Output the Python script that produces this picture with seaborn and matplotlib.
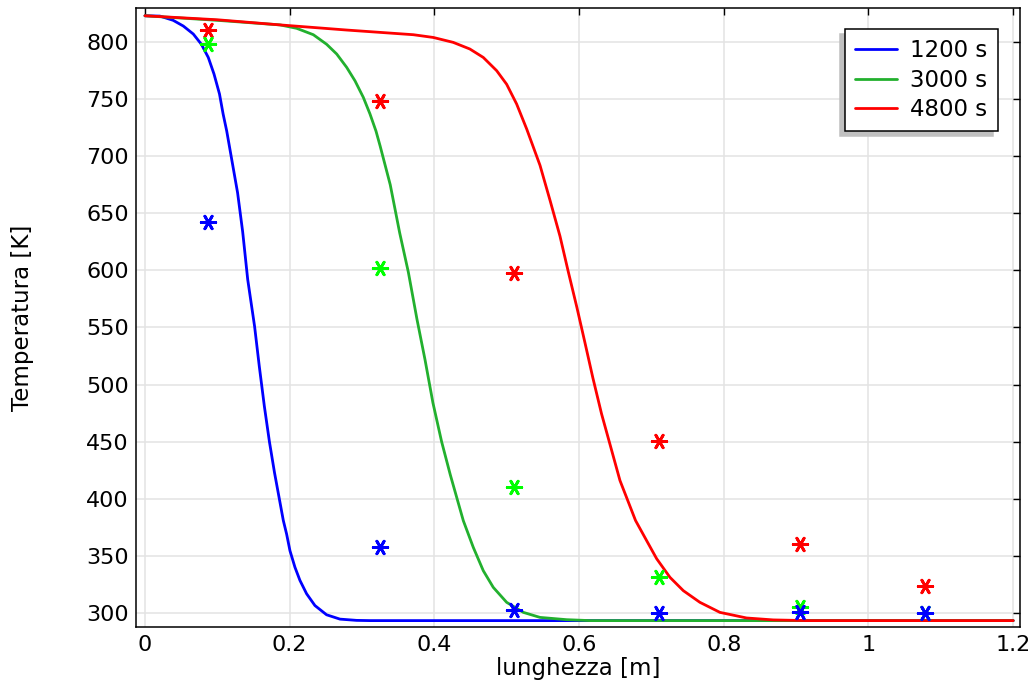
import numpy as np
import pandas as pd
import matplotlib
matplotlib.use("Agg")
import matplotlib.pyplot as plt
import seaborn as sns

# ---- data ----
series_names = ["1200 s", "3000 s", "4800 s"]

x_1200 = [0, 0.0207, 0.039, 0.053, 0.0668, 0.078, 0.0875, 0.0954, 0.103, 0.108, 0.113,
          0.128, 0.135, 0.142, 0.1515, 0.158, 0.165, 0.172, 0.179, 0.1912, 0.1958,
          0.2004, 0.2073, 0.2142, 0.2234, 0.2349, 0.251, 0.2695, 0.2925, 0.311, 0.4,
          0.6, 0.8, 1.0, 1.2]
t_1200 = [823, 822.7, 819, 814, 807, 798, 786.5, 772, 754.5, 737, 722,
          668, 634, 592, 551, 516, 481, 450, 423, 381, 369,
          354.5, 340, 328.5, 316.8, 306.5, 298.4, 294.6, 293.5, 293.3, 293.3,
          293.3, 293.3, 293.3, 293.3]

x_3000 = [0, 0.1, 0.1866, 0.2097, 0.2327, 0.2511, 0.265, 0.2788, 0.2903, 0.3018, 0.311,
          0.3193, 0.325, 0.339, 0.352, 0.364, 0.376, 0.387, 0.398, 0.410, 0.422, 0.44,
          0.4538, 0.4676, 0.4814, 0.4999, 0.523, 0.546, 0.583, 0.615, 0.8, 1.0, 1.2]
t_3000 = [823, 819, 815, 812, 806.4, 798, 789.5, 777.8, 766, 751.5, 737,
          722, 709, 675, 633, 598.5, 557, 522, 484, 450, 421, 380.8,
          357.4, 337, 322.4, 309.3, 300.5, 296.1, 294.1, 293.3, 293.3, 293.3, 293.3]

x_4800 = [0, 0.1, 0.1866, 0.2788, 0.371, 0.3985, 0.426, 0.449, 0.4676, 0.4861, 0.4999,
          0.5137, 0.5276, 0.546, 0.560, 0.5736, 0.585, 0.597, 0.608, 0.619, 0.631,
          0.643, 0.6565, 0.678, 0.6934, 0.7072, 0.7256, 0.7441, 0.767, 0.7947, 0.8315,
          0.8684, 0.9145, 1.0, 1.2]
t_4800 = [823, 819.5, 815, 810.5, 806.4, 804, 799.7, 793.9, 786.5, 774.9, 763,
          745.7, 723.8, 692, 661, 630, 599, 567.5, 537, 506, 474.5,
          447, 416, 381, 363.3, 347.5, 331.2, 319.5, 309.3, 300.5, 295.6,
          293.9, 293.3, 293.3, 293.3]

# measured points (stars)
x_meas = [0.087, 0.325, 0.51, 0.71, 0.905, 1.078]
m_1200 = [642, 358, 302.5, 300, 301, 300]
m_3000 = [798, 602, 410, 331.5, 305, 300]
m_4800 = [810.5, 748, 597.5, 450.5, 360.5, 323.5]

x_ticks = [0, 0.2, 0.4, 0.6, 0.8, 1.0, 1.2]
x_tick_labels = ["0", "0.2", "0.4", "0.6", "0.8", "1", "1.2"]
y_ticks = [300, 350, 400, 450, 500, 550, 600, 650, 700, 750, 800]

line_colors = ["#0000ff", "#22b02e", "#ff0000"]
marker_colors = ["#0000ff", "#00ff00", "#ff0000"]

# ---- tables ----
curves = pd.concat([
    pd.DataFrame({"x": x_1200, "T": t_1200, "serie": series_names[0]}),
    pd.DataFrame({"x": x_3000, "T": t_3000, "serie": series_names[1]}),
    pd.DataFrame({"x": x_4800, "T": t_4800, "serie": series_names[2]}),
], ignore_index=True)
points = pd.concat([
    pd.DataFrame({"x": x_meas, "T": m_1200, "serie": series_names[0]}),
    pd.DataFrame({"x": x_meas, "T": m_3000, "serie": series_names[1]}),
    pd.DataFrame({"x": x_meas, "T": m_4800, "serie": series_names[2]}),
], ignore_index=True)

sns.set_theme(style="white")
plt.rcParams["font.family"] = ["DejaVu Sans"]
plt.rcParams["text.color"] = "black"
plt.rcParams["axes.labelcolor"] = "black"
plt.rcParams["xtick.color"] = "black"
plt.rcParams["ytick.color"] = "black"

fig = plt.figure(figsize=(10.32, 6.86), dpi=100)
ax = fig.add_axes([136 / 1032, 59 / 686, 884 / 1032, 619 / 686])

sns.lineplot(data=curves, x="x", y="T", hue="serie", palette=line_colors,
             sort=False, estimator=None, linewidth=2.0, ax=ax, legend=False, zorder=3)
# draw markers red, green, blue so blue is on top
for i in [2, 1, 0]:
    name = series_names[i]
    sub = points[points["serie"] == name]
    sns.scatterplot(data=sub, x="x", y="T", marker=(6, 2, 30), s=110,
                    color=marker_colors[i], edgecolor=marker_colors[i],
                    linewidth=2.0, ax=ax, legend=False, zorder=4)

ax.set_xlim(-0.0124, 1.2094)
ax.set_ylim(287.7, 829.8)
ax.set_xticks(x_ticks)
ax.set_xticklabels(x_tick_labels)
ax.set_yticks(y_ticks)

ax.grid(True, color="#e3e3e3", linewidth=1.1)
ax.set_axisbelow(True)
for sp in ax.spines.values():
    sp.set_color("black")
    sp.set_linewidth(1.1)
ax.tick_params(axis="both", which="both", direction="in", length=5, width=1.0,
               top=True, right=True, labelsize=16, colors="black", pad=5)
ax.tick_params(axis="x", pad=6)

ax.set_xlabel("lunghezza [m]", fontsize=16.5, color="black")
ax.set_ylabel("Temperatura [K]", fontsize=16.5, color="black")
ax.xaxis.set_label_coords(0.5, -0.048)
ax.yaxis.set_label_coords(-0.115, 0.5)

handles = [plt.Line2D([], [], color=c, linewidth=2.0) for c in line_colors]
leg = ax.legend(handles, series_names, loc="upper right",
                bbox_to_anchor=((998 - 136) / 884, (627 - 29) / 619),
                borderaxespad=0, fontsize=16.5, frameon=True, fancybox=False,
                handlelength=1.8, handletextpad=0.6, labelspacing=0.28,
                borderpad=0.45,
                shadow={"ox": -3.5, "oy": -3.5, "color": "#c0c0c0", "alpha": 1})
leg.get_frame().set_edgecolor("black")
leg.get_frame().set_linewidth(1.1)
leg.get_frame().set_facecolor("white")
leg.get_frame().set_alpha(1)
for t in leg.get_texts():
    t.set_color("black")

fig.savefig("out.png", dpi=100)
